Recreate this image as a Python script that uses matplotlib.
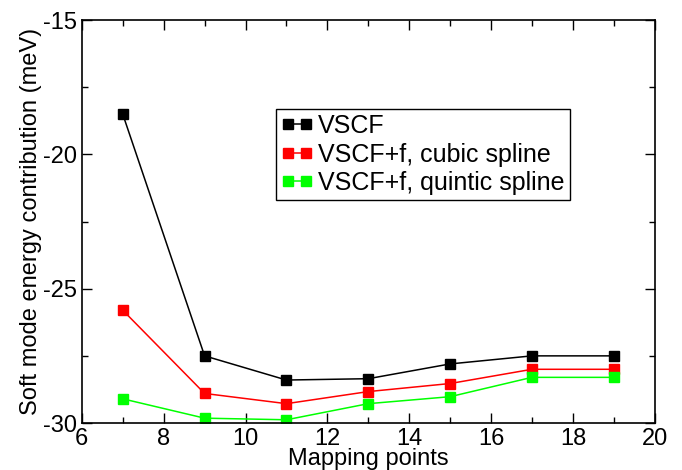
import numpy as np
import matplotlib.pyplot as plt
from matplotlib.ticker import MultipleLocator

plt.rcParams['font.family'] = ['Liberation Sans', 'DejaVu Sans']
plt.rcParams['axes.unicode_minus'] = False

x = [7, 9, 11, 13, 15, 17, 19]
vscf = [-18.5, -27.5, -28.4, -28.35, -27.8, -27.5, -27.5]
cubic = [-25.8, -28.9, -29.28, -28.83, -28.53, -28.0, -28.0]
quintic = [-29.1, -29.82, -29.88, -29.28, -29.02, -28.3, -28.3]

fig = plt.figure(figsize=(6.82, 4.70), dpi=100)
ax = fig.add_axes([0.120, 0.100, 0.840, 0.857])

ax.plot(x, vscf, '-s', color='black', lw=1.1, ms=7.5, label='VSCF')
ax.plot(x, cubic, '-s', color='#ff0000', lw=1.1, ms=7.5, label='VSCF+f, cubic spline')
ax.plot(x, quintic, '-s', color='#00ff00', lw=1.1, ms=7.5, label='VSCF+f, quintic spline')

ax.set_xlim(6, 20)
ax.set_ylim(-30, -15)
ax.xaxis.set_major_locator(MultipleLocator(2))
ax.xaxis.set_minor_locator(MultipleLocator(1))
ax.yaxis.set_major_locator(MultipleLocator(5))
ax.yaxis.set_minor_locator(MultipleLocator(2.5))
ax.tick_params(which='both', direction='in', top=True, right=True, labelsize=17)
ax.tick_params(which='major', length=7, width=1)
ax.tick_params(which='minor', length=4, width=1)
for s in ax.spines.values():
    s.set_linewidth(1.2)

ax.set_xlabel('Mapping points', fontsize=17, labelpad=-1)
ax.set_ylabel('Soft mode energy contribution (meV)', fontsize=17, labelpad=1)

leg = ax.legend(loc='upper left', bbox_to_anchor=(0.404, 0.768), bbox_transform=fig.transFigure,
                fontsize=18, numpoints=2, handlelength=1.3, handletextpad=0.2,
                labelspacing=0.18, borderpad=0.2, fancybox=False, framealpha=1,
                edgecolor='black', borderaxespad=0)
leg.get_frame().set_linewidth(1)

fig.savefig('out.png', dpi=100)
